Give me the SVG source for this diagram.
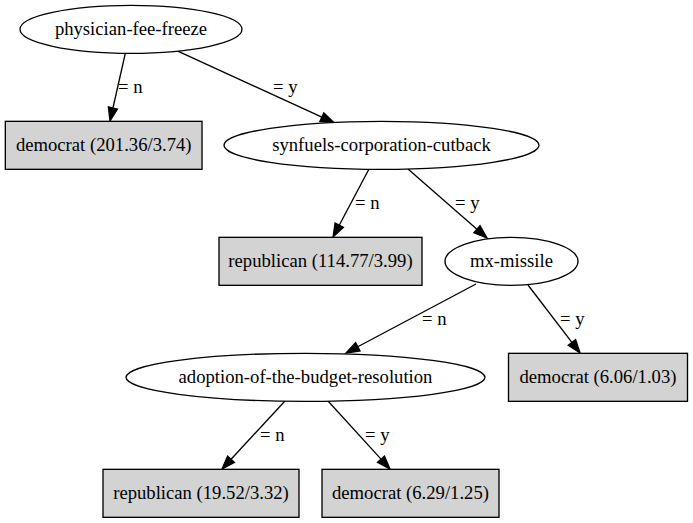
<svg xmlns="http://www.w3.org/2000/svg" width="693" height="523" viewBox="0 0 693 523" font-family="'Liberation Serif', 'Times New Roman', serif">
<style>
text{font-family:'Liberation Serif','Tinos','Times New Roman','DejaVu Serif',serif;font-size:18.67px;text-anchor:middle;fill:#000}
.e{fill:#fff;stroke:#000;stroke-width:1.33}
.b{fill:#d3d3d3;stroke:#000;stroke-width:1.33}
.c line{stroke:#000;stroke-width:1.33}
.c polygon{fill:#000;stroke:#000;stroke-width:1.33}
</style>
<rect width="693" height="523" fill="#fff"/>
<g class="c" id="connectors">
<line x1="125.3" y1="53.3" x2="112.94" y2="108.0"/>
<polygon points="117.5,109.03 108.38,106.97 110,121"/>
<text x="130.3" y="92.9">= n</text>
<line x1="176.7" y1="50.7" x2="321.88" y2="117.15"/>
<polygon points="319.94,121.40 323.82,112.90 334,122.7"/>
<text x="285.3" y="92.9">= y</text>
<line x1="369" y1="169" x2="339.24" y2="225.22"/>
<polygon points="343.37,227.41 335.11,223.04 333,237"/>
<text x="367.3" y="209">= n</text>
<line x1="408" y1="169" x2="476.96" y2="229.23"/>
<polygon points="473.89,232.75 480.03,225.71 487,238"/>
<text x="467.3" y="209">= y</text>
<line x1="476" y1="284" x2="357.77" y2="346.75"/>
<polygon points="359.96,350.88 355.58,342.63 346,353"/>
<text x="434.3" y="325">= n</text>
<line x1="528" y1="285" x2="571.90" y2="342.41"/>
<polygon points="568.19,345.25 575.61,339.57 580,353"/>
<text x="572.3" y="325">= y</text>
<line x1="285" y1="401" x2="231.06" y2="459.22"/>
<polygon points="234.49,462.39 227.64,456.05 222,469"/>
<text x="272.3" y="441">= n</text>
<line x1="328" y1="401" x2="381.02" y2="459.15"/>
<polygon points="377.57,462.30 384.47,456.00 390,469"/>
<text x="377.3" y="441">= y</text>
</g>
<g id="n0"><ellipse class="e" cx="131" cy="29.33" rx="111" ry="24"/><text x="131" y="35">physician-fee-freeze</text></g>
<g id="n1"><rect class="b" x="5.33" y="121.33" width="196.7" height="48"/><text x="103.7" y="151">democrat (201.36/3.74)</text></g>
<g id="n2"><ellipse class="e" cx="381.5" cy="145.33" rx="157.5" ry="24"/><text x="381.5" y="151">synfuels-corporation-cutback</text></g>
<g id="n3"><rect class="b" x="219" y="237.33" width="203" height="48"/><text x="320.5" y="267">republican (114.77/3.99)</text></g>
<g id="n4"><ellipse class="e" cx="511.5" cy="261.33" rx="66.5" ry="24"/><text x="511.5" y="267">mx-missile</text></g>
<g id="n5"><ellipse class="e" cx="305.5" cy="377.33" rx="179.5" ry="24"/><text x="305.5" y="383">adoption-of-the-budget-resolution</text></g>
<g id="n6"><rect class="b" x="508.5" y="353.33" width="179" height="48"/><text x="598" y="383">democrat (6.06/1.03)</text></g>
<g id="n7"><rect class="b" x="103" y="469.33" width="196" height="48"/><text x="201" y="499">republican (19.52/3.32)</text></g>
<g id="n8"><rect class="b" x="322" y="469.33" width="177" height="48"/><text x="410.5" y="499">democrat (6.29/1.25)</text></g>
</svg>
